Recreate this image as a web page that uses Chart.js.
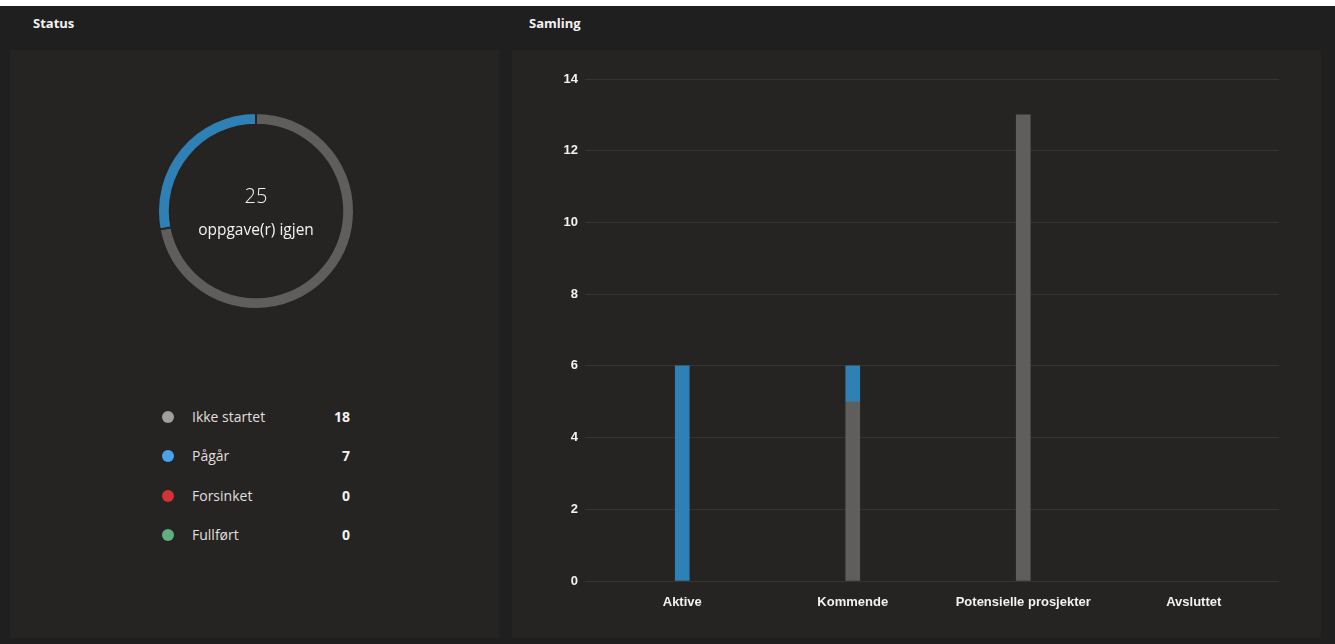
<!DOCTYPE html>
<html lang="no">
<head>
<meta charset="UTF-8">
<title>Status / Samling</title>
<script src="https://cdn.jsdelivr.net/npm/chart.js@4.4.1/dist/chart.umd.min.js"></script>
<style>
  html, body { margin: 0; padding: 0; }
  body { width: 1335px; height: 644px; background: #1f1f1f; position: relative; overflow: hidden;
         font-family: "Open Sans", "Noto Sans", sans-serif; color: #f3f2f1; }
  .topstrip { position: absolute; left: 0; top: 0; width: 1335px; height: 6px; background: #fff; }
  .hdr { position: absolute; top: 14px; font-size: 13px; font-weight: 700; color: #f3f2f1; }
  .panel { position: absolute; top: 50px; height: 588px; background: #252423; }
  #donutWrap { position: absolute; left: 157px; top: 112px; width: 198px; height: 198px; }
  #centerNum { position: absolute; left: 156px; width: 200px; top: 182px; text-align: center; font-size: 20px; font-weight: 300; }
  #centerTxt { position: absolute; left: 156px; width: 200px; top: 218px; text-align: center; font-size: 15.5px; }
  .lg { position: absolute; left: 160px; width: 190px; height: 20px; font-size: 14px; }
  .lg .dot { position: absolute; left: 2px; top: 4px; width: 12px; height: 12px; border-radius: 50%; }
  .lg .lbl { position: absolute; left: 32px; top: 0; line-height: 20px; color: #e1dfdd; }
  .lg .val { position: absolute; right: 0; top: 0; line-height: 20px; font-weight: 700; }
  #barWrap { position: absolute; left: 512px; top: 50px; width: 809px; height: 588px; }
</style>
</head>
<body>
<div class="topstrip"></div>
<div class="hdr" style="left:33px">Status</div>
<div class="hdr" style="left:529px">Samling</div>
<div class="panel" style="left:10px; width:489px"></div>
<div class="panel" style="left:512px; width:809px"></div>

<div id="donutWrap"><canvas id="donut" width="198" height="198"></canvas></div>
<div id="centerNum"></div>
<div id="centerTxt">oppgave(r) igjen</div>
<div id="legend"></div>

<div id="barWrap"><canvas id="bars" width="809" height="588"></canvas></div>

<script>
  // status data
  var statusLabels = ["Ikke startet", "Pågår", "Forsinket", "Fullført"];
  var statusCounts = [18, 7, 0, 0];
  var ringColors = ["#605e5c", "#2f80b4", "#d13438", "#5fb07e"];
  var dotColors = ["#a19f9d", "#4aa3ea", "#d13438", "#5fb07e"];

  // samling data (stacked per status)
  var categories = ["Aktive", "Kommende", "Potensielle prosjekter", "Avsluttet"];
  var ikkeStartet = [0, 5, 13, 0];
  var pagar = [6, 1, 0, 0];
  var forsinket = [0, 0, 0, 0];
  var fullfort = [0, 0, 0, 0];
  var yTicks = [0, 2, 4, 6, 8, 10, 12, 14];

  // remaining = not finished
  var remaining = statusCounts[0] + statusCounts[1] + statusCounts[2];
  document.getElementById("centerNum").textContent = remaining;

  // legend rows
  var legendHtml = "";
  var rowTops = [407, 446, 486, 525];
  for (var i = 0; i < statusLabels.length; i++) {
    legendHtml += '<div class="lg" style="top:' + rowTops[i] + 'px">' +
      '<span class="dot" style="background:' + dotColors[i] + '"></span>' +
      '<span class="lbl">' + statusLabels[i] + '</span>' +
      '<span class="val">' + statusCounts[i] + '</span></div>';
  }
  document.getElementById("legend").innerHTML = legendHtml;

  new Chart(document.getElementById("donut"), {
    type: "doughnut",
    data: {
      labels: statusLabels,
      datasets: [{
        data: statusCounts,
        backgroundColor: ringColors,
        borderColor: "#252423",
        borderWidth: 2
      }]
    },
    options: {
      responsive: false,
      animation: false,
      cutout: "88%",
      layout: { padding: 0 },
      plugins: { legend: { display: false }, tooltip: { enabled: false } }
    }
  });

  // zero segments are not drawn at all
  function noZero(arr) {
    return arr.map(function (v) { return v === 0 ? null : v; });
  }

  var tickFont = { family: "'Liberation Sans', Arial", size: 13, weight: "bold" };

  new Chart(document.getElementById("bars"), {
    type: "bar",
    data: {
      labels: categories,
      datasets: [
        { label: statusLabels[0], data: noZero(ikkeStartet), backgroundColor: ringColors[0], barThickness: 14 },
        { label: statusLabels[1], data: noZero(pagar), backgroundColor: ringColors[1], barThickness: 14 },
        { label: statusLabels[2], data: noZero(forsinket), backgroundColor: ringColors[2], barThickness: 14 },
        { label: statusLabels[3], data: noZero(fullfort), backgroundColor: ringColors[3], barThickness: 14 }
      ]
    },
    options: {
      responsive: false,
      animation: false,
      layout: { padding: { top: 29, right: 42, left: 0, bottom: 0 } },
      plugins: { legend: { display: false }, tooltip: { enabled: false } },
      scales: {
        x: {
          stacked: true,
          grid: { display: false, drawTicks: false },
          border: { display: false },
          ticks: { color: "#f3f2f1", padding: 14, maxRotation: 0, autoSkip: false, font: tickFont },
          afterFit: function (s) { s.height = 57; }
        },
        y: {
          stacked: true,
          min: 0,
          max: yTicks[yTicks.length - 1],
          afterBuildTicks: function (s) { s.ticks = yTicks.map(function (v) { return { value: v }; }); },
          grid: { color: "#353433", tickLength: 12, tickColor: "#353433" },
          border: { display: false },
          ticks: { color: "#f3f2f1", padding: 7, font: tickFont },
          afterFit: function (s) { s.width = 85; }
        }
      }
    }
  });
</script>
</body>
</html>
